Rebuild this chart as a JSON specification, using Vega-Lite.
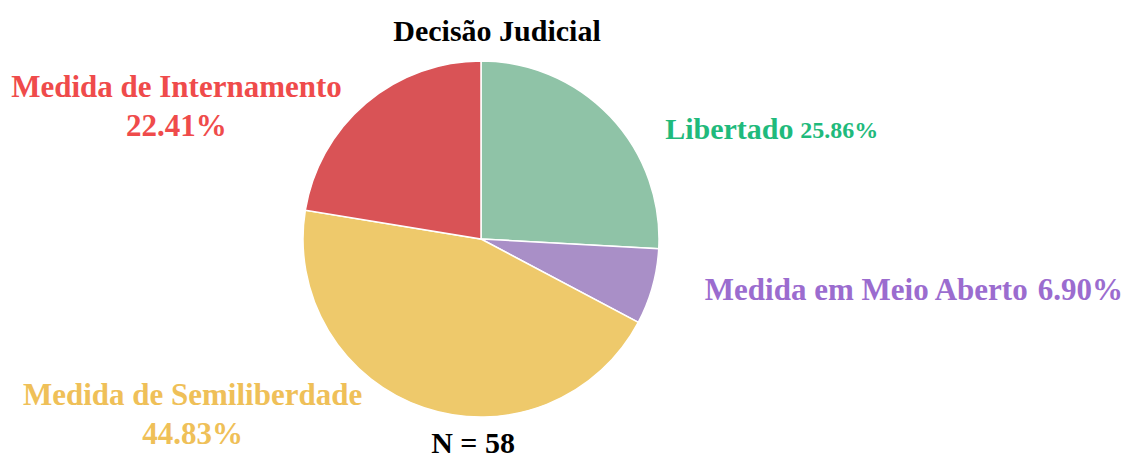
{
  "$schema": "https://vega.github.io/schema/vega-lite/v6.json",
  "autosize": {"type": "none"},
  "padding": {"left": 0, "right": 172, "top": 50, "bottom": 31},
  "width": 962,
  "height": 378,
  "background": "white",
  "config": {"view": {"stroke": null}},
  "title": {
    "text": "Decisão Judicial",
    "font": "Liberation Serif",
    "fontSize": 30,
    "fontWeight": "bold",
    "color": "#000000",
    "anchor": "middle",
    "dx": 16,
    "offset": -3
  },
  "data": {
    "values": [
      {"categoria": "Libertado", "n": 15, "proporcao": 0.2586, "ordem": 1},
      {"categoria": "Medida em Meio Aberto", "n": 4, "proporcao": 0.069, "ordem": 2},
      {"categoria": "Medida de Semiliberdade", "n": 26, "proporcao": 0.4483, "ordem": 3},
      {"categoria": "Medida de Internamento", "n": 13, "proporcao": 0.2241, "ordem": 4}
    ]
  },
  "layer": [
    {
      "encoding": {
        "theta": {"field": "n", "type": "quantitative", "stack": true},
        "order": {"field": "ordem", "type": "quantitative"},
        "detail": {"field": "categoria", "type": "nominal"}
      },
      "layer": [
        {
          "mark": {"type": "arc", "outerRadius": 178, "stroke": "#ffffff", "strokeWidth": 1.5},
          "encoding": {
            "color": {
              "field": "categoria",
              "type": "nominal",
              "scale": {
                "domain": ["Libertado", "Medida em Meio Aberto", "Medida de Semiliberdade", "Medida de Internamento"],
                "range": ["#8fc3a7", "#a98fc7", "#eec96b", "#d95356"]
              },
              "legend": null
            }
          }
        },
        {
          "mark": {"type": "text", "radius": 180, "align": "center", "baseline": "middle", "dx": -188, "dy": -14, "font": "Liberation Serif", "fontSize": 31, "fontWeight": "bold", "color": "#ef4b4b"},
          "encoding": {"text": {"condition": {"test": "datum.categoria === 'Medida de Internamento'", "field": "categoria", "type": "nominal"}, "value": ""}}
        },
        {
          "mark": {"type": "text", "radius": 180, "align": "center", "baseline": "middle", "dx": -188, "dy": 25, "font": "Liberation Serif", "fontSize": 31, "fontWeight": "bold", "color": "#ef4b4b"},
          "encoding": {"text": {"condition": {"test": "datum.categoria === 'Medida de Internamento'", "field": "proporcao", "type": "quantitative", "format": ".2%"}, "value": ""}}
        },
        {
          "mark": {"type": "text", "radius": 160, "align": "left", "baseline": "middle", "dx": 68, "dy": 1, "font": "Liberation Serif", "fontSize": 30, "fontWeight": "bold", "color": "#1fba7c"},
          "encoding": {"text": {"condition": {"test": "datum.categoria === 'Libertado'", "field": "categoria", "type": "nominal"}, "value": ""}}
        },
        {
          "mark": {"type": "text", "radius": 160, "align": "left", "baseline": "middle", "dx": 203, "dy": 2, "font": "Liberation Serif", "fontSize": 24, "fontWeight": "bold", "color": "#1fba7c"},
          "encoding": {"text": {"condition": {"test": "datum.categoria === 'Libertado'", "field": "proporcao", "type": "quantitative", "format": ".2%"}, "value": ""}}
        },
        {
          "mark": {"type": "text", "radius": 225, "align": "left", "baseline": "middle", "dx": 7, "dy": -8, "font": "Liberation Serif", "fontSize": 31, "fontWeight": "bold", "color": "#9b6ccf"},
          "encoding": {"text": {"condition": {"test": "datum.categoria === 'Medida em Meio Aberto'", "field": "categoria", "type": "nominal"}, "value": ""}}
        },
        {
          "mark": {"type": "text", "radius": 225, "align": "left", "baseline": "middle", "dx": 340, "dy": -8, "font": "Liberation Serif", "fontSize": 31, "fontWeight": "bold", "color": "#9b6ccf"},
          "encoding": {"text": {"condition": {"test": "datum.categoria === 'Medida em Meio Aberto'", "field": "proporcao", "type": "quantitative", "format": ".2%"}, "value": ""}}
        },
        {
          "mark": {"type": "text", "radius": 180, "align": "center", "baseline": "middle", "dx": -231, "dy": -14, "font": "Liberation Serif", "fontSize": 31, "fontWeight": "bold", "color": "#efc058"},
          "encoding": {"text": {"condition": {"test": "datum.categoria === 'Medida de Semiliberdade'", "field": "categoria", "type": "nominal"}, "value": ""}}
        },
        {
          "mark": {"type": "text", "radius": 180, "align": "center", "baseline": "middle", "dx": -231, "dy": 25, "font": "Liberation Serif", "fontSize": 31, "fontWeight": "bold", "color": "#efc058"},
          "encoding": {"text": {"condition": {"test": "datum.categoria === 'Medida de Semiliberdade'", "field": "proporcao", "type": "quantitative", "format": ".2%"}, "value": ""}}
        }
      ]
    },
    {
      "data": {"values": [{"rotulo": "N = 58"}]},
      "mark": {"type": "text", "x": {"expr": "width / 2 - 8"}, "y": {"expr": "height + 16"}, "align": "center", "baseline": "middle", "font": "Liberation Serif", "fontSize": 30, "fontWeight": "bold", "color": "#000000"},
      "encoding": {"text": {"field": "rotulo", "type": "nominal"}}
    }
  ]
}
